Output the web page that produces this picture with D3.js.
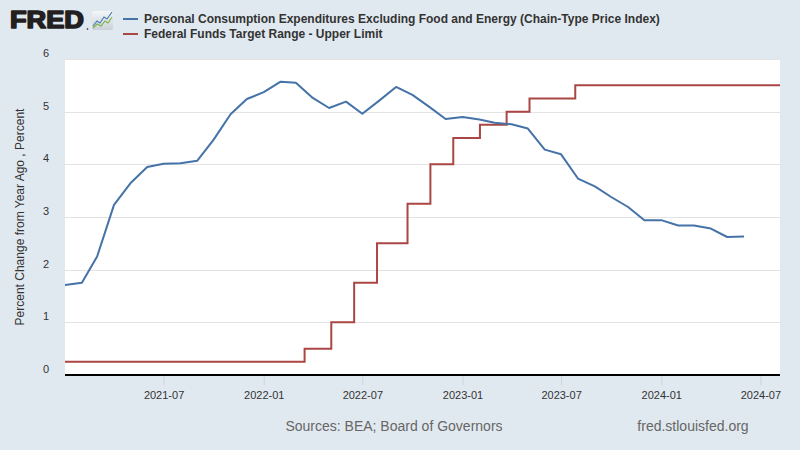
<!DOCTYPE html>
<html>
<head>
<meta charset="utf-8">
<script src="https://cdn.jsdelivr.net/npm/d3@7"></script>
<style>
  html, body { margin: 0; padding: 0; background: #E1E9F0; }
  svg { display: block; font-family: "Liberation Sans", Arial, Helvetica, sans-serif; }
</style>
</head>
<body>
<svg id="chart" width="800" height="450"></svg>
<script>
// ---------- DATA ----------
const pceMonths = [
  "2021-01","2021-02","2021-03","2021-04","2021-05","2021-06","2021-07","2021-08","2021-09","2021-10","2021-11","2021-12",
  "2022-01","2022-02","2022-03","2022-04","2022-05","2022-06","2022-07","2022-08","2022-09","2022-10","2022-11","2022-12",
  "2023-01","2023-02","2023-03","2023-04","2023-05","2023-06","2023-07","2023-08","2023-09","2023-10","2023-11","2023-12",
  "2024-01","2024-02","2024-03","2024-04","2024-05","2024-06"
];
const pceValues = [
  1.71, 1.75, 2.25, 3.23, 3.64, 3.95, 4.01, 4.02, 4.07, 4.47, 4.95, 5.24,
  5.37, 5.57, 5.55, 5.26, 5.07, 5.19, 4.96, 5.21, 5.47, 5.32, 5.09, 4.86,
  4.90, 4.85, 4.79, 4.76, 4.68, 4.28, 4.19, 3.73, 3.58, 3.38, 3.19, 2.94,
  2.94, 2.84, 2.84, 2.78, 2.62, 2.63
];
const fedDates = [
  "2021-01-01","2022-03-17","2022-05-05","2022-06-16","2022-07-28","2022-09-22",
  "2022-11-03","2022-12-15","2023-02-02","2023-03-23","2023-05-04","2023-07-27","2024-08-06"
];
const fedValues = [0.25, 0.50, 1.00, 1.75, 2.50, 3.25, 4.00, 4.50, 4.75, 5.00, 5.25, 5.50, 5.50];

const xTickLabels = ["2021-07","2022-01","2022-07","2023-01","2023-07","2024-01","2024-07"];
const yTickValues = [0, 1, 2, 3, 4, 5, 6];
const legendLabels = [
  "Personal Consumption Expenditures Excluding Food and Energy (Chain-Type Price Index)",
  "Federal Funds Target Range - Upper Limit"
];
const seriesColors = ["#4572A7", "#AA4643"];
const yAxisTitle = "Percent Change from Year Ago , Percent";
const sourceText = "Sources: BEA; Board of Governors";
const siteText = "fred.stlouisfed.org";
const xDomain = ["2021-01-01", "2024-08-06"];

// ---------- SETUP ----------
const parseMonth = d3.timeParse("%Y-%m");
const parseDay = d3.timeParse("%Y-%m-%d");
const svg = d3.select("#chart");

const plot = { left: 65, right: 780, top: 59, bottom: 375 };

const x = d3.scaleTime()
  .domain(xDomain.map(parseDay))
  .range([plot.left, plot.right]);
const y = d3.scaleLinear()
  .domain([0, 6])
  .range([plot.bottom, plot.top]);

// background
svg.append("rect").attr("width", 800).attr("height", 450).attr("fill", "#E1E9F0");
svg.append("rect")
  .attr("x", plot.left).attr("y", plot.top)
  .attr("width", plot.right - plot.left).attr("height", plot.bottom - plot.top)
  .attr("fill", "#FFFFFF");

// gridlines
svg.append("g")
  .selectAll("line")
  .data(yTickValues.filter(v => v > 0))
  .join("line")
  .attr("x1", plot.left).attr("x2", plot.right)
  .attr("y1", d => Math.round(y(d)) + 0.5).attr("y2", d => Math.round(y(d)) + 0.5)
  .attr("stroke", "#E3E3E3").attr("stroke-width", 1);

// y tick labels
svg.append("g")
  .selectAll("text")
  .data(yTickValues)
  .join("text")
  .attr("x", 46).attr("y", d => y(d) - 2)
  .attr("text-anchor", "middle")
  .attr("font-size", 11).attr("fill", "#333")
  .text(d => d);

// x axis
const xTicks = xTickLabels.map(parseMonth);
const xAxis = d3.axisBottom(x)
  .tickValues(xTicks)
  .tickSize(10)
  .tickPadding(6)
  .tickFormat(d3.timeFormat("%Y-%m"));
const gx = svg.append("g")
  .attr("transform", `translate(0,${plot.bottom})`)
  .call(xAxis);
gx.select(".domain").remove();
gx.selectAll(".tick line").attr("stroke", "#C8D5E2").attr("stroke-width", 1);
gx.selectAll(".tick text")
  .attr("font-size", 11).attr("fill", "#333")
  .attr("font-family", "'Liberation Sans', Arial, sans-serif");
svg.append("line")
  .attr("x1", plot.left).attr("x2", plot.right)
  .attr("y1", plot.bottom).attr("y2", plot.bottom)
  .attr("stroke", "#000").attr("stroke-width", 2);

// y axis title
svg.append("text")
  .attr("transform", `translate(24,${(plot.top + plot.bottom) / 2}) rotate(-90)`)
  .attr("text-anchor", "middle")
  .attr("font-size", 12).attr("fill", "#333")
  .text(yAxisTitle);

// series
svg.append("clipPath").attr("id", "clip")
  .append("rect")
  .attr("x", plot.left).attr("y", plot.top - 5)
  .attr("width", plot.right - plot.left).attr("height", plot.bottom - plot.top + 5);

const fedData = fedDates.map((d, i) => ({ date: parseDay(d), value: fedValues[i] }));
const pceData = pceMonths.map((d, i) => ({ date: parseMonth(d), value: pceValues[i] }));

const fedLine = d3.line().x(d => x(d.date)).y(d => y(d.value)).curve(d3.curveStepAfter);
const pceLine = d3.line().x(d => x(d.date)).y(d => y(d.value));

const series = svg.append("g").attr("clip-path", "url(#clip)");
series.append("path")
  .datum(fedData)
  .attr("d", fedLine)
  .attr("fill", "none")
  .attr("stroke", seriesColors[1])
  .attr("stroke-width", 2)
  .attr("stroke-linejoin", "miter");
series.append("path")
  .datum(pceData)
  .attr("d", pceLine)
  .attr("fill", "none")
  .attr("stroke", seriesColors[0])
  .attr("stroke-width", 2)
  .attr("stroke-linejoin", "round");

// legend
const legend = svg.append("g");
legendLabels.forEach((lab, i) => {
  const ly = 19 + i * 15;
  legend.append("line")
    .attr("x1", 123).attr("x2", 138)
    .attr("y1", ly).attr("y2", ly)
    .attr("stroke", seriesColors[i]).attr("stroke-width", 2);
  legend.append("text")
    .attr("x", 144).attr("y", ly + 4)
    .attr("font-size", 12).attr("font-weight", "bold").attr("fill", "#333")
    .text(lab);
});

// FRED logo
const logo = svg.append("g");
logo.append("text")
  .attr("x", 10).attr("y", 28)
  .attr("font-size", 24).attr("font-weight", 900)
  .attr("fill", "#231F20")
  .attr("stroke", "#231F20").attr("stroke-width", 1.6).attr("stroke-linejoin", "round")
  .attr("textLength", 74).attr("lengthAdjust", "spacingAndGlyphs")
  .attr("font-family", "'Liberation Sans', Arial, sans-serif")
  .text("FRED");
logo.append("circle").attr("cx", 87.5).attr("cy", 29).attr("r", 0.9).attr("fill", "#555");
const defs = svg.append("defs");
const grad = defs.append("linearGradient").attr("id", "icon").attr("x1", 0).attr("y1", 0).attr("x2", 0).attr("y2", 1);
grad.append("stop").attr("offset", "0%").attr("stop-color", "#F4F6F8");
grad.append("stop").attr("offset", "100%").attr("stop-color", "#C9D1D8");
logo.append("rect").attr("x", 92).attr("y", 11).attr("width", 21).attr("height", 19).attr("rx", 2)
  .attr("fill", "url(#icon)");
logo.append("polyline")
  .attr("points", "93,26 97,21 100,23 104,17 107,19 112,12")
  .attr("fill", "none").attr("stroke", "#4C7DB5").attr("stroke-width", 1.2);
logo.append("polyline")
  .attr("points", "93,28 97,24 101,26 105,21 108,23 112,17")
  .attr("fill", "none").attr("stroke", "#7FB24A").attr("stroke-width", 1.2);

// footer
svg.append("text")
  .attr("x", 394).attr("y", 431)
  .attr("text-anchor", "middle")
  .attr("font-size", 14).attr("fill", "#666")
  .text(sourceText);
svg.append("text")
  .attr("x", 693).attr("y", 431)
  .attr("text-anchor", "middle")
  .attr("font-size", 14).attr("fill", "#666")
  .text(siteText);
</script>
</body>
</html>
